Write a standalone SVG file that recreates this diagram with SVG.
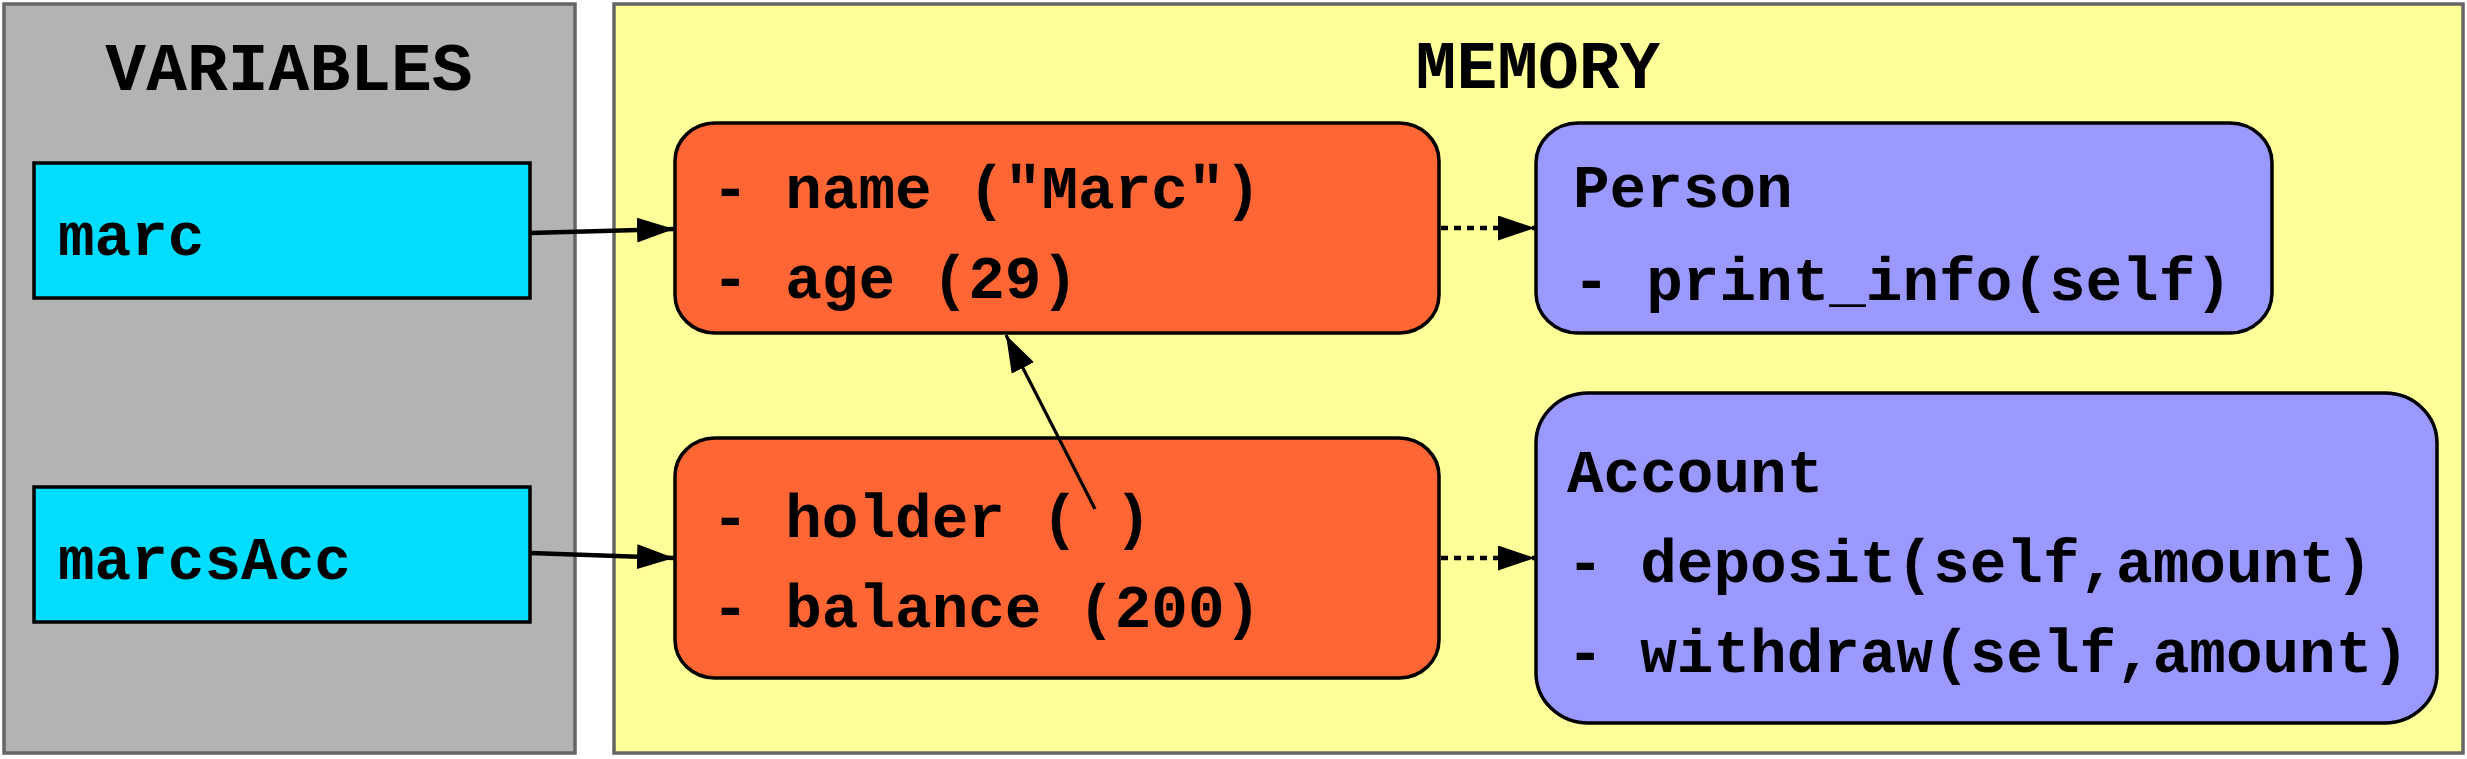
<svg xmlns="http://www.w3.org/2000/svg" width="2467" height="759" viewBox="0 0 2467 759">
<style>
.panel{stroke:#666666;stroke-width:3.5}
.box{stroke:#000;stroke-width:3.5}
.t{font-family:"Liberation Mono","Courier New",monospace;font-weight:bold;fill:#000}
.title{font-size:68px}
.body{font-size:61px}
.conn{stroke:#000;fill:none}
</style>
<defs>
<marker id="ah" markerUnits="userSpaceOnUse" markerWidth="37" markerHeight="25" refX="37" refY="12.5" orient="auto">
<path d="M0,0 L37,12.5 L0,25 Z" fill="#000"/>
</marker>
</defs>
<rect width="2467" height="759" fill="#fff"/>
<g id="variables">
<rect class="panel" x="4" y="4" width="571" height="749" fill="#b3b3b3"/>
<text class="t title" x="289" y="90" text-anchor="middle">VARIABLES</text>
</g>
<g id="memory">
<rect class="panel" x="614" y="4" width="1849" height="749" fill="#ffff99"/>
<text class="t title" x="1538" y="88" text-anchor="middle">MEMORY</text>
</g>
<g id="var-marc">
<rect class="box" x="34" y="163" width="496" height="135" fill="#00ddff"/>
<text class="t body" x="58" y="255">marc</text>
</g>
<g id="var-marcsAcc">
<rect class="box" x="34" y="487" width="496" height="135" fill="#00ddff"/>
<text class="t body" x="58" y="579">marcsAcc</text>
</g>
<g id="obj-marc">
<rect class="box" x="675" y="123" width="764" height="210" rx="40" ry="38" fill="#ff6633"/>
<text class="t body" x="712" y="208">- name ("Marc")</text>
<text class="t body" x="712" y="298">- age (29)</text>
</g>
<g id="obj-acc">
<rect class="box" x="675" y="438" width="764" height="240" rx="40" ry="38" fill="#ff6633"/>
<text class="t body" x="712" y="537">- holder ( )</text>
<text class="t body" x="712" y="627">- balance (200)</text>
</g>
<g id="cls-person">
<rect class="box" x="1536" y="123" width="736" height="210" rx="42" ry="40" fill="#9999ff"/>
<text class="t body" x="1573" y="207">Person</text>
<text class="t body" x="1573" y="300">- print_info(self)</text>
</g>
<g id="cls-account">
<rect class="box" x="1536" y="393" width="901" height="330" rx="52" ry="50" fill="#9999ff"/>
<text class="t body" x="1567" y="492">Account</text>
<text class="t body" x="1567" y="582">- deposit(self,amount)</text>
<text class="t body" x="1567" y="672">- withdraw(self,amount)</text>
</g>
<g id="connectors">
<line class="conn" x1="530" y1="233" x2="674" y2="229" stroke-width="4.5" marker-end="url(#ah)"/>
<line class="conn" x1="530" y1="553" x2="674" y2="558" stroke-width="4.5" marker-end="url(#ah)"/>
<line class="conn" x1="1441" y1="228" x2="1535" y2="228" stroke-width="4.5" stroke-dasharray="7 6" marker-end="url(#ah)"/>
<line class="conn" x1="1441" y1="558" x2="1535" y2="558" stroke-width="4.5" stroke-dasharray="7 6" marker-end="url(#ah)"/>
<line class="conn" x1="1095" y1="509" x2="1006" y2="335" stroke-width="3.2" marker-end="url(#ah)"/>
</g>
</svg>
